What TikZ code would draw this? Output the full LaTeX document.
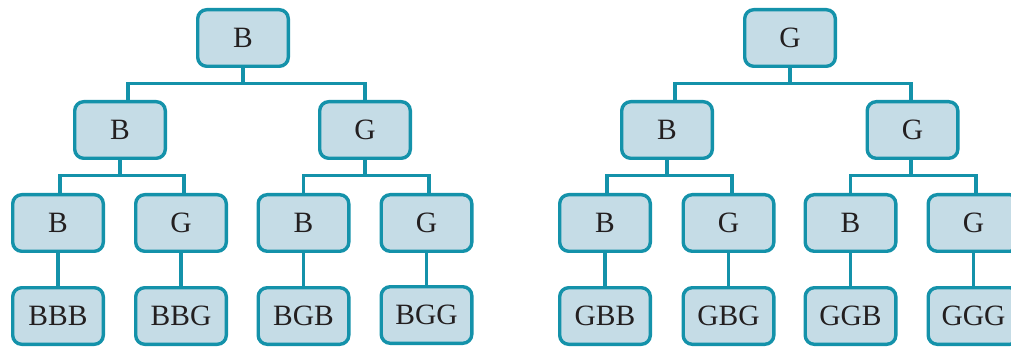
\documentclass[tikz,border=0pt]{standalone}
\usepackage{fontspec}
\setmainfont{Liberation Serif}
\definecolor{edge}{RGB}{20,146,170}
\definecolor{boxfill}{RGB}{197,220,230}
\definecolor{ink}{RGB}{35,31,32}
\begin{document}
\begin{tikzpicture}[x=1pt,y=-1pt,
  tbox/.style={draw=edge, fill=boxfill, line width=3.4pt, rounded corners=9pt,
    minimum width=90.6pt, minimum height=56.6pt, inner sep=0pt, text=ink,
    font=\fontsize{29.5}{29.5}\selectfont},
  link/.style={draw=edge, line width=3.4pt, line join=miter}]
\useasboundingbox (0,0) rectangle (1011,347);
% left tree
\node[tbox] (r1) at (243,38) {B};
\node[tbox] (a1) at (120,130) {B};
\node[tbox] (a2) at (365,130) {G};
\node[tbox] (c1) at (58,223) {B};
\node[tbox] (c2) at (181,223) {G};
\node[tbox] (c3) at (303.5,223) {B};
\node[tbox] (c4) at (426.5,223) {G};
\node[tbox] (l1) at (58,316) {BBB};
\node[tbox] (l2) at (181,316) {BBG};
\node[tbox] (l3) at (303.5,316) {BGB};
\node[tbox] (l4) at (426.5,315) {BGG};
% right tree
\node[tbox] (r2) at (790,38) {G};
\node[tbox] (d1) at (667,130) {B};
\node[tbox] (d2) at (912.5,130) {G};
\node[tbox] (e1) at (605,223) {B};
\node[tbox] (e2) at (728.5,223) {G};
\node[tbox] (e3) at (850.5,223) {B};
\node[tbox] (e4) at (973.5,223) {G};
\node[tbox] (m1) at (605,316) {GBB};
\node[tbox] (m2) at (728.5,316) {GBG};
\node[tbox] (m3) at (850.5,316) {GGB};
\node[tbox] (m4) at (973.5,316) {GGG};
% connectors left
\draw[link] (r1.south) -- ++(0,15.5) coordinate (j1);
\draw[link] ([xshift=8pt]a1.north) |- (j1) -| (a2.north);
\draw[link] (a1.south) -- ++(0,15.5) coordinate (j2);
\draw[link] ([xshift=2pt]c1.north) |- (j2) -| ([xshift=3pt]c2.north);
\draw[link] (a2.south) -- ++(0,15.5) coordinate (j3);
\draw[link] (c3.north) |- (j3) -| ([xshift=2.5pt]c4.north);
\draw[link] (c1) -- (l1);
\draw[link] (c2) -- (l2);
\draw[link] (c3) -- (l3);
\draw[link] (c4) -- (l4);
% connectors right
\draw[link] (r2.south) -- ++(0,15.5) coordinate (k1);
\draw[link] ([xshift=8pt]d1.north) |- (k1) -| ([xshift=-1.5pt]d2.north);
\draw[link] (d1.south) -- ++(0,15.5) coordinate (k2);
\draw[link] ([xshift=2pt]e1.north) |- (k2) -| ([xshift=3.5pt]e2.north);
\draw[link] ([xshift=-1.5pt]d2.south) -- ++(0,15.5) coordinate (k3);
\draw[link] (e3.north) |- (k3) -| ([xshift=2.5pt]e4.north);
\draw[link] (e1) -- (m1);
\draw[link] (e2) -- (m2);
\draw[link] (e3) -- (m3);
\draw[link] (e4) -- (m4);
\end{tikzpicture}
\end{document}
